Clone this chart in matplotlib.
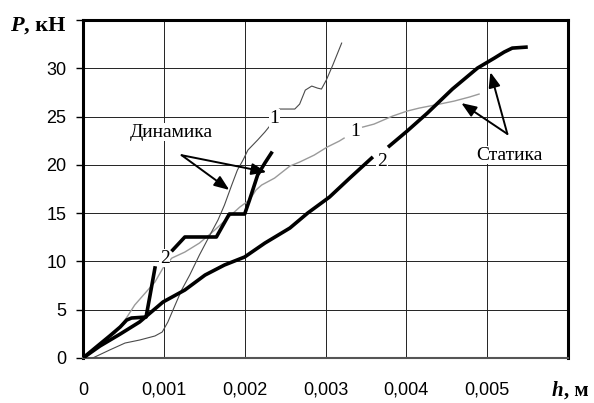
import numpy as np
import matplotlib.pyplot as plt

# dynamic loading, curve 1 (thin) and curve 2 (thick)
h_dyn1 = [0.00012, 0.00033, 0.00052, 0.00070, 0.00089, 0.00098, 0.00105, 0.00114, 0.00122,
          0.00132, 0.00144, 0.00157, 0.00167, 0.00175, 0.00184, 0.00191, 0.00198, 0.00204,
          0.00216, 0.00225, 0.00231, np.nan, 0.00243, 0.00262, 0.00268, 0.00275, 0.00283,
          0.00290, 0.00295, 0.00301, 0.00309, 0.00320]
P_dyn1 = [0.0, 0.83, 1.55, 1.86, 2.28, 2.69, 3.73, 5.49, 7.04,
          8.59, 10.66, 12.73, 14.29, 15.84, 17.91, 19.46, 20.50, 21.53,
          22.57, 23.40, 24.02, np.nan, 25.78, 25.78, 26.29, 27.74, 28.16,
          27.95, 27.85, 28.78, 30.33, 32.61]

h_dyn2 = [0.0, 0.00015, 0.00033, 0.00046, 0.00054, 0.00060, 0.00078, 0.00083, 0.00089, np.nan,
          0.00111, 0.00126, 0.00165, 0.00181, 0.00200, 0.00206, 0.00216, 0.00225, 0.00233]
P_dyn2 = [0.0, 1.04, 2.28, 3.21, 3.93, 4.14, 4.24, 6.52, 9.32, np.nan,
          11.18, 12.53, 12.53, 14.91, 14.91, 16.36, 18.94, 20.19, 21.22]

# static loading, curve 1 (thin grey) and curve 2 (thick)
h_st1 = [0.0, 0.00021, 0.00040, 0.00052, 0.00064, 0.00077, 0.00089, 0.00099, 0.00110, 0.00126,
         0.00144, 0.00163, 0.00179, 0.00194, 0.00206, 0.00214, 0.00221, 0.00237, 0.00256,
         0.00268, 0.00286, 0.00302, 0.00317, 0.00323, np.nan, 0.00346, 0.00360, 0.00383,
         0.00401, 0.00416, 0.00441, 0.00459, 0.00478, 0.00490]
P_st1 = [0.0, 1.35, 2.59, 3.93, 5.49, 6.73, 7.87, 9.32, 10.35, 10.97,
         11.90, 13.25, 14.49, 15.63, 16.36, 17.39, 17.91, 18.63, 19.88,
         20.29, 21.01, 21.84, 22.46, 22.77, np.nan, 23.91, 24.22, 25.05,
         25.57, 25.88, 26.29, 26.60, 27.02, 27.33]

h_st2 = [0.0, 0.00021, 0.00046, 0.00070, 0.00099, 0.00126, 0.00151, 0.00175, 0.00200, 0.00225,
         0.00256, 0.00278, 0.00305, 0.00330, 0.00357, np.nan, 0.00379, 0.00401, 0.00426,
         0.00457, 0.00488, 0.00509, 0.00521, 0.00531, 0.00548]
P_st2 = [0.0, 1.24, 2.48, 3.73, 5.80, 7.04, 8.59, 9.63, 10.46, 11.90,
         13.46, 15.01, 16.67, 18.63, 20.70, np.nan, 21.95, 23.50, 25.36,
         27.85, 30.02, 31.06, 31.68, 32.09, 32.19]

x_ticks = [0, 0.001, 0.002, 0.003, 0.004, 0.005, 0.006]
x_labels = ["0", "0,001", "0,002", "0,003", "0,004", "0,005", ""]
y_ticks = [0, 5, 10, 15, 20, 25, 30, 35]
y_labels = ["0", "5", "10", "15", "20", "25", "30", ""]

serif = "Liberation Serif"
sans = "Liberation Sans"

fig = plt.figure(figsize=(5.94, 4.03), dpi=100)
ax = fig.add_axes([83/594, 45/403, 485/594, 338/403])

ax.set_xlim(0, 0.006)
ax.set_ylim(0, 35)
ax.set_xticks(x_ticks)
ax.set_xticklabels(x_labels, fontfamily=sans, fontsize=13)
ax.set_yticks(y_ticks)
ax.set_yticklabels(y_labels, fontfamily=sans, fontsize=13)
ax.tick_params(axis="x", length=0, pad=17)
ax.tick_params(axis="y", length=5, width=1, pad=7)
ax.grid(True, color="#222222", linewidth=0.7)
ax.set_axisbelow(True)

for side in ["left", "top", "right"]:
    ax.spines[side].set_linewidth(2.2)
ax.spines["bottom"].set_linewidth(1.5)
ax.spines["bottom"].set_color("#555555")

ax.plot(h_st1, P_st1, color="#9a9a9a", lw=1.0, zorder=3)
ax.plot(h_dyn1, P_dyn1, color="#4a4a4a", lw=0.8, zorder=3)
ax.plot(h_st2, P_st2, color="black", lw=2.6, zorder=4)
ax.plot(h_dyn2, P_dyn2, color="black", lw=2.6, zorder=4)

box = dict(facecolor="white", edgecolor="none", pad=0.5)
for (hx, py, s) in [(0.00237, 24.8, "1"), (0.00337, 23.5, "1"), (0.00101, 10.35, "2"), (0.00370, 20.3, "2")]:
    ax.text(hx, py, s, fontfamily=serif, fontsize=14, ha="center", va="center", bbox=box, zorder=5)

ax.text(0.00109, 23.4, "Динамика", fontfamily=serif, fontsize=14, ha="center", va="center", bbox=box, zorder=5)
ax.text(0.00527, 21.0, "Статика", fontfamily=serif, fontsize=14, ha="center", va="center", bbox=box, zorder=5)

arrow = dict(arrowstyle="-|>,head_length=0.9,head_width=0.35", color="black", lw=1.4, shrinkA=0, shrinkB=0)
for tip in [(0.00181, 17.4), (0.00227, 19.25)]:
    ax.annotate("", xy=tip, xytext=(0.00122, 21.0), arrowprops=arrow, zorder=6)
for tip in [(0.00468, 26.4), (0.00504, 29.6)]:
    ax.annotate("", xy=tip, xytext=(0.00525, 23.2), arrowprops=arrow, zorder=6)

# axis titles in place of the last tick labels
tP = fig.text(10/594, 1 - 26/403, "P", fontfamily=serif, fontsize=16, fontweight="bold",
              fontstyle="italic", ha="left", va="center")
ax.annotate(", кН", xy=(1, 0), xycoords=tP, va="bottom", fontfamily=serif, fontsize=16, fontweight="bold")

th = fig.text(552/594, 1 - 391/403, "h", fontfamily=serif, fontsize=15, fontweight="bold",
              fontstyle="italic", ha="left", va="center")
ax.annotate(", м", xy=(1, 0), xycoords=th, va="bottom", fontfamily=serif, fontsize=15, fontweight="bold")

fig.savefig("out.png", dpi=100)
